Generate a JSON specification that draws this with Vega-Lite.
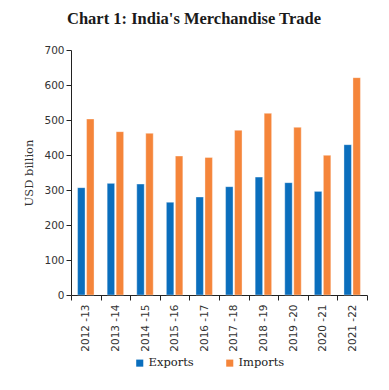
{
  "$schema": "https://vega.github.io/schema/vega-lite/v6.json",
  "autosize": {"type": "none"},
  "width": 296,
  "height": 245,
  "padding": {"left": 71, "top": 50, "right": 22, "bottom": 95},
  "background": "white",
  "title": {
    "text": "Chart 1: India's Merchandise Trade",
    "font": "Liberation Serif",
    "fontSize": 16.5,
    "fontWeight": "bold",
    "color": "#1a1a1a",
    "anchor": "middle",
    "dx": -25,
    "offset": 18
  },
  "data": {
    "values": [
      {"year": "2012 -13", "type": "Exports", "value": 306.7},
      {"year": "2012 -13", "type": "Imports", "value": 502.9},
      {"year": "2013 -14", "type": "Exports", "value": 319},
      {"year": "2013 -14", "type": "Imports", "value": 466.7},
      {"year": "2014 -15", "type": "Exports", "value": 317},
      {"year": "2014 -15", "type": "Imports", "value": 461.9},
      {"year": "2015 -16", "type": "Exports", "value": 265},
      {"year": "2015 -16", "type": "Imports", "value": 397},
      {"year": "2016 -17", "type": "Exports", "value": 280},
      {"year": "2016 -17", "type": "Imports", "value": 393},
      {"year": "2017 -18", "type": "Exports", "value": 309.5},
      {"year": "2017 -18", "type": "Imports", "value": 470.5},
      {"year": "2018 -19", "type": "Exports", "value": 337},
      {"year": "2018 -19", "type": "Imports", "value": 519},
      {"year": "2019 -20", "type": "Exports", "value": 321},
      {"year": "2019 -20", "type": "Imports", "value": 479},
      {"year": "2020 -21", "type": "Exports", "value": 296},
      {"year": "2020 -21", "type": "Imports", "value": 399},
      {"year": "2021 -22", "type": "Exports", "value": 429.5},
      {"year": "2021 -22", "type": "Imports", "value": 621}
    ]
  },
  "mark": {"type": "bar", "stroke": "#ffffff", "strokeOpacity": 0.6, "strokeWidth": 0.6},
  "encoding": {
    "x": {
      "field": "year",
      "type": "nominal",
      "sort": null,
      "scale": {"paddingInner": 0, "paddingOuter": 0},
      "axis": {
        "title": null,
        "labelAngle": -90,
        "labelFont": "DejaVu Sans",
        "labelFontSize": 10.5,
        "labelColor": "#333333",
        "labelPadding": 4,
        "tickBand": "extent",
        "tickSize": 5,
        "tickColor": "#222222",
        "domainColor": "#222222",
        "grid": false
      }
    },
    "xOffset": {
      "field": "type",
      "type": "nominal",
      "scale": {"paddingInner": 0.17, "paddingOuter": 0.73}
    },
    "y": {
      "field": "value",
      "type": "quantitative",
      "scale": {"domain": [0, 700], "nice": false},
      "axis": {
        "title": "USD billion",
        "titleFont": "DejaVu Serif",
        "titleFontSize": 11.5,
        "titleFontWeight": "normal",
        "titleColor": "#333333",
        "titlePadding": 9,
        "values": [0, 100, 200, 300, 400, 500, 600, 700],
        "labelFont": "DejaVu Sans",
        "labelFontSize": 10.5,
        "labelColor": "#333333",
        "labelPadding": 2,
        "tickSize": 5,
        "tickColor": "#222222",
        "domainColor": "#222222",
        "grid": false
      }
    },
    "color": {
      "field": "type",
      "type": "nominal",
      "scale": {"domain": ["Exports", "Imports"], "range": ["#0A6EBD", "#F5853A"]},
      "legend": {
        "title": null,
        "orient": "none",
        "direction": "horizontal",
        "legendX": 63,
        "legendY": 307,
        "symbolType": "square",
        "symbolSize": 50,
        "symbolStrokeWidth": 0,
        "labelFont": "DejaVu Serif",
        "labelFontSize": 11.5,
        "labelColor": "#222222",
        "labelOffset": 3,
        "columnPadding": 30
      }
    }
  },
  "config": {
    "view": {"stroke": null}
  }
}
